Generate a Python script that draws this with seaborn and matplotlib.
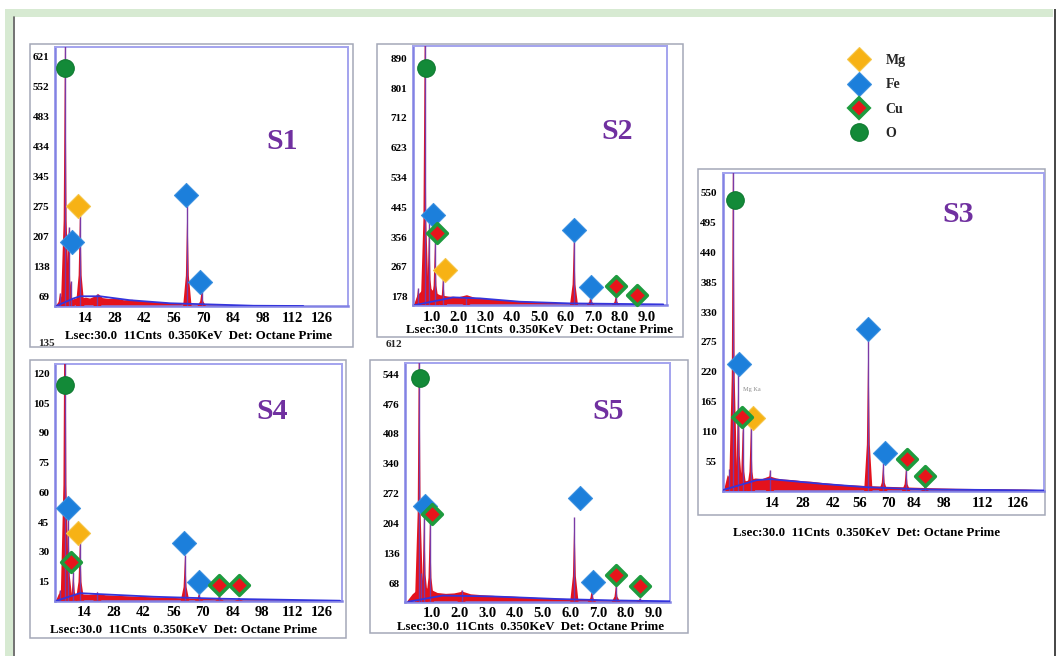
import matplotlib
matplotlib.use("Agg")
import matplotlib.pyplot as plt
from matplotlib.patches import Rectangle
from matplotlib.lines import Line2D
import seaborn as sns

sns.set_theme(style="white")
plt.rcParams["font.family"] = ["Liberation Serif", "DejaVu Serif"]
plt.rcParams["font.weight"] = "bold"

W, H = 1056, 656

# ---------------------------------------------------------------- data
elements = ["Mg", "Fe", "Cu", "O"]

# S1 : channel scale
s1_peak_x = [2.0, 4.4, 6.1, 7.0, 11.5, 19.7, 62.3, 69.1]
s1_peak_y = [78, 700, 230, 105, 283, 76, 279, 84]
s1_cont_x = [0.5, 2, 3, 4, 6, 8, 10, 12, 14, 16, 18, 20, 22, 25, 28, 32, 36, 40, 45, 50, 55, 60, 66, 72, 80, 90, 100, 110, 118]
s1_cont_y = [48, 66, 74, 60, 68, 64, 67, 66, 68, 66, 70, 76, 67, 65, 67, 62, 63, 60, 58, 57, 55, 53, 52, 51, 50, 49.5, 49, 48.5, 47.8]
s1_bg_x = [0.4, 8.3, 11.5, 20.9, 35.1, 54.1, 71.5, 93.6, 117.2]
s1_bg_y = [48, 65, 70, 70, 61, 54, 51.5, 48.3, 47.7]
s1_mk_el = ["O", "Fe", "Mg", "Fe", "Fe"]
s1_mk_x = [4.4, 7.7, 10.3, 61.6, 68.3]
s1_mk_y = [593, 195, 278, 302, 103]
s1_yticks = [69, 138, 207, 276, 345, 414, 483, 552, 621]
s1_ylabels = ["69", "138", "207", "275", "345", "434", "483", "552", "621"]

# S2 : keV scale
s2_peak_x = [0.50, 0.75, 0.91, 1.13, 1.43, 2.30, 6.30, 6.92, 7.86, 8.63]
s2_peak_y = [203, 1000, 402, 347, 238, 174, 357, 183, 183, 163]
s2_cont_x = [0.32, 0.45, 0.6, 0.8, 0.95, 1.1, 1.3, 1.6, 2.0, 2.3, 2.6, 3.0, 3.5, 4.0, 4.5, 5.0, 5.5, 6.0, 6.6, 7.2, 8.0, 8.8, 9.7]
s2_cont_y = [153, 182, 195, 210, 204, 192, 184, 180, 178, 184, 176, 173, 170, 167, 165, 163, 161, 160, 159, 158, 157, 155, 154]
s2_bg_x = [0.38, 1.19, 1.80, 2.80, 4.29, 6.15, 9.62]
s2_bg_y = [153, 166, 176, 173, 163, 158, 155]
s2_mk_el = ["O", "Fe", "Cu", "Mg", "Fe", "Fe", "Cu", "Cu"]
s2_mk_x = [0.79, 1.06, 1.22, 1.51, 6.30, 6.95, 7.86, 8.63]
s2_mk_y = [860, 422, 367, 258, 377, 208, 211, 183]
s2_yticks = [178, 267, 356, 445, 534, 623, 712, 801, 890]

# S3 : channel scale
s3_peak_x = [3.0, 4.6, 6.8, 8.7, 12.2, 20.4, 62.6, 69.0, 78.8, 86.9]
s3_peak_y = [40, 700, 217, 119, 119, 39, 285, 51, 42, 11]
s3_cont_x = [0.3, 2, 3.5, 5, 7, 10, 12, 14, 17, 20, 23, 26, 30, 34, 38, 42, 47, 52, 57, 62, 68, 75, 82, 90, 100, 110, 120, 130, 137]
s3_cont_y = [0, 30, 22, 17, 20, 19, 22, 24, 23, 28, 24, 22, 21, 19, 18, 16, 14, 12, 11, 10, 9, 8, 7, 6, 5, 4.5, 4, 3.5, 2.5]
s3_bg_x = [0.3, 14.7, 20.4, 43.3, 61.9, 86.2, 112.0, 137.7]
s3_bg_y = [2, 20, 22, 13, 7, 3, 2, 1]
s3_mk_el = ["O", "Fe", "Cu", "Mg", "Fe", "Fe", "Cu", "Cu"]
s3_mk_x = [5.4, 7.2, 8.2, 13.0, 62.6, 69.7, 79.1, 86.9]
s3_mk_y = [536, 234, 137, 134, 298, 70, 59, 28]
s3_yticks = [55, 110, 165, 220, 275, 330, 385, 440, 495, 550]

# S4 : channel scale
s4_peak_x = [2.7, 5.0, 6.6, 8.95, 12.1, 20.3, 61.6, 68.2, 77.8, 87.0]
s4_peak_y = [10.8, 200, 47, 20, 37, 10, 28.4, 9.2, 8.3, 7.0]
s4_cont_x = [0.5, 2, 4, 6, 8, 10, 12, 16, 20, 24, 28, 34, 40, 46, 52, 60, 70, 80, 90, 100, 115, 130]
s4_cont_y = [5.4, 9.2, 7.4, 8.8, 8.4, 8.6, 8.9, 8.6, 9.0, 8.4, 8.2, 7.9, 7.6, 7.4, 7.2, 6.9, 6.6, 6.3, 6.1, 5.9, 5.7, 5.5]
s4_bg_x = [1.1, 12.1, 21.5, 46.7, 78.1, 134.6]
s4_bg_y = [5.4, 9.2, 8.7, 7.4, 6.4, 5.4]
s4_mk_el = ["O", "Fe", "Cu", "Mg", "Fe", "Fe", "Cu", "Cu"]
s4_mk_x = [5.0, 6.6, 7.9, 11.3, 61.3, 68.2, 77.8, 87.0]
s4_mk_y = [114, 52, 25, 39.7, 34.7, 15, 13.3, 13.3]
s4_yticks = [15, 30, 45, 60, 75, 90, 105, 120]

# S5 : keV scale
s5_peak_x = [0.55, 0.62, 0.73, 0.94, 2.08, 6.15, 6.78, 7.65, 8.52]
s5_peak_y = [700, 92, 231, 208, 53, 220, 53, 64, 34]
s5_cont_x = [0.08, 0.3, 0.45, 0.6, 0.8, 1.0, 1.2, 1.5, 1.8, 2.1, 2.4, 2.8, 3.3, 3.8, 4.4, 5.0, 5.6, 6.3, 7.0, 7.8, 8.6, 9.6]
s5_cont_y = [26, 44, 52, 64, 58, 53, 47, 45, 46, 50, 44, 42, 40, 39, 37, 35, 34, 32, 31, 30, 28, 27]
s5_bg_x = [0.16, 1.4, 3.2, 5.6, 7.5, 9.6]
s5_bg_y = [26, 40, 38, 32, 29, 27]
s5_mk_el = ["O", "Fe", "Cu", "Fe", "Fe", "Cu", "Cu"]
s5_mk_x = [0.58, 0.76, 1.02, 6.35, 6.83, 7.65, 8.52]
s5_mk_y = [535, 244, 225, 262, 72, 87, 62.5]
s5_yticks = [68, 136, 204, 272, 340, 408, 476, 544]

chan_ticks = [14, 28, 42, 56, 70, 84, 98, 112, 126]
kev_ticks = [1.0, 2.0, 3.0, 4.0, 5.0, 6.0, 7.0, 8.0, 9.0]
# where the channel labels of S3 sit on its energy axis
s3_tick_pos = [21.5, 34.4, 47.3, 58.7, 71.2, 82.2, 95.1, 111.7, 126.9]

caption = "Lsec:30.0  11Cnts  0.350KeV  Det: Octane Prime"

# ---------------------------------------------------------------- style
RED = "#e4121c"
PURPLE = "#7a3aa6"
BLUE = "#3434dc"
FRAME = "#a3a3ee"
AXIS = "#8282e4"
BOX = "#a4a8b8"
TITLE = "#7030a0"

mk_style = {
    "Mg": dict(marker="D", color="#f7b215", edgecolor="#f5c64a", linewidth=0.8, s=150),
    "Fe": dict(marker="D", color="#1c7fdb", edgecolor="#3a90e0", linewidth=0.8, s=150),
    "Cu": dict(marker="D", color="#e8141b", edgecolor="#1e9b3e", linewidth=2.6, s=100),
    "O": dict(marker="o", color="#138a38", edgecolor="#0e7a30", linewidth=0.8, s=160),
}


def px_rect(l, t, r, b):
    return [l / W, 1 - b / H, (r - l) / W, (b - t) / H]


fig = plt.figure(figsize=(W / 100, H / 100), dpi=100)
fig.patch.set_facecolor("white")

# page frame
fig.add_artist(Rectangle((5 / W, 0), 1048 / W, 1 - 9 / H, transform=fig.transFigure,
                         facecolor="#d7ead2", edgecolor="none", zorder=-10))
fig.add_artist(Rectangle((13 / W, 0), 1040 / W, 1 - 17 / H, transform=fig.transFigure,
                         facecolor="white", edgecolor="none", zorder=-9))
fig.add_artist(Line2D([13.5 / W, 13.5 / W], [0, 1 - 17 / H], transform=fig.transFigure,
                      color="#5a5a5a", lw=1.2, zorder=-8))
fig.add_artist(Rectangle((1053.5 / W, 0), 2.5 / W, 1 - 9 / H, transform=fig.transFigure,
                         facecolor="#4a4a4a", edgecolor="none", zorder=-8))

# panel boxes
for (l, t, r, b) in [(30, 44, 353, 347), (377, 44, 683, 337), (698, 169, 1045, 515),
                     (30, 360, 346, 638), (370, 360, 688, 633)]:
    fig.add_artist(Rectangle((l / W, 1 - b / H), (r - l) / W, (b - t) / H, transform=fig.transFigure,
                             facecolor="none", edgecolor=BOX, lw=1.1, zorder=-5))


def draw_panel(rect, px, py, cx, cy, bx, by, me, mx, my, xlim, ylim, half_w,
               xticks, xlabels, yticks, ylabels, xfs, yfs):
    ax = fig.add_axes(px_rect(*rect))
    ax.set_facecolor("white")
    y0 = ylim[0]
    ax.fill_between(cx, y0, cy, color=RED, lw=0, zorder=2)
    # each line drawn as a narrow red spike, broad at its foot
    for x, y in zip(px, py):
        ax.fill([x - half_w, x - half_w * 0.35, x, x + half_w * 0.35, x + half_w],
                [y0, y0 + (y - y0) * 0.3, y, y0 + (y - y0) * 0.3, y0],
                color=RED, lw=0, zorder=3)
    ax.vlines(px, y0, py, color=PURPLE, lw=1.0, zorder=4)
    sns.lineplot(x=bx, y=by, ax=ax, color=BLUE, lw=1.3, sort=False, estimator=None, zorder=4)
    for el in elements:
        sel = [i for i, e in enumerate(me) if e == el]
        if not sel:
            continue
        sns.scatterplot(x=[mx[i] for i in sel], y=[my[i] for i in sel], ax=ax,
                        zorder=6, clip_on=False, legend=False, **mk_style[el])
    ax.set_xlim(*xlim)
    ax.set_ylim(*ylim)
    ax.set_xticks(xticks)
    ax.set_xticklabels(xlabels, fontsize=xfs, fontweight="bold")
    ax.set_yticks(yticks)
    ax.set_yticklabels(ylabels, fontsize=yfs, fontweight="bold")
    ax.tick_params(axis="both", length=0, colors="black")
    ax.tick_params(axis="x", pad=4)
    ax.tick_params(axis="y", pad=4)
    ax.set_xlabel("")
    ax.set_ylabel("")
    for side in ["top", "right"]:
        ax.spines[side].set_color(FRAME)
        ax.spines[side].set_linewidth(1.4)
    for side in ["left", "bottom"]:
        ax.spines[side].set_color(AXIS)
        ax.spines[side].set_linewidth(1.8)
    return ax


chan_labels = [str(v) for v in chan_ticks]
kev_labels = [f"{v:.1f}" for v in kev_ticks]

draw_panel((55, 47, 348, 306), s1_peak_x, s1_peak_y, s1_cont_x, s1_cont_y, s1_bg_x, s1_bg_y,
           s1_mk_el, s1_mk_x, s1_mk_y, (-0.4, 138.4), (47.7, 641.8), 2.0,
           chan_ticks, chan_labels, s1_yticks, s1_ylabels, 10.5, 8)
draw_panel((413, 46, 667, 305), s2_peak_x, s2_peak_y, s2_cont_x, s2_cont_y, s2_bg_x, s2_bg_y,
           s2_mk_el, s2_mk_x, s2_mk_y, (0.31, 9.76), (153.2, 926.8), 0.15,
           kev_ticks, kev_labels, s2_yticks, [str(v) for v in s2_yticks], 10.5, 8)
draw_panel((722.5, 172.7, 1044, 491), s3_peak_x, s3_peak_y, s3_cont_x, s3_cont_y, s3_bg_x, s3_bg_y,
           s3_mk_el, s3_mk_x, s3_mk_y, (0, 138), (0, 587), 1.8,
           s3_tick_pos, chan_labels, s3_yticks, [str(v) for v in s3_yticks], 10.5, 8)
draw_panel((55, 364.3, 341.7, 600.7), s4_peak_x, s4_peak_y, s4_cont_x, s4_cont_y, s4_bg_x, s4_bg_y,
           s4_mk_el, s4_mk_x, s4_mk_y, (0.33, 135.4), (5.4, 124.5), 2.0,
           chan_ticks, chan_labels, s4_yticks, [str(v) for v in s4_yticks], 10.5, 8)
draw_panel((405, 363.3, 670, 601.7), s5_peak_x, s5_peak_y, s5_cont_x, s5_cont_y, s5_bg_x, s5_bg_y,
           s5_mk_el, s5_mk_x, s5_mk_y, (0.04, 9.6), (26, 569), 0.15,
           kev_ticks, kev_labels, s5_yticks, [str(v) for v in s5_yticks], 10.5, 8)


def ftext(x, y, s, **kw):
    fig.text(x / W, 1 - y / H, s, ha=kw.pop("ha", "center"), va=kw.pop("va", "center"), **kw)


# panel names
for name, (x, y) in zip(["S1", "S2", "S3", "S4", "S5"],
                        [(281.7, 141.7), (616.7, 131.7), (958.3, 215), (271.7, 411.7), (608.3, 411.7)]):
    ftext(x, y, name, fontsize=21.5, fontweight="bold", color=TITLE)

# acquisition captions
for (x, y) in [(198.3, 336), (540, 330), (866.7, 533.3), (183.3, 630), (531, 626.7)]:
    ftext(x, y, caption, fontsize=9.3, fontweight="bold", color="black")

ftext(46.7, 343.3, "135", fontsize=8, fontweight="bold")
ftext(394.3, 344.3, "612", fontsize=8, fontweight="bold")
ftext(752, 390, "Mg Ka", fontsize=4.5, color="#8a8a8a", fontweight="normal")

# element legend
handles = [Line2D([], [], ls="none", marker=mk_style[e]["marker"],
                  ms=(mk_style[e]["s"]) ** 0.5, mfc=mk_style[e]["color"],
                  mec=mk_style[e]["edgecolor"], mew=mk_style[e]["linewidth"]) for e in elements]
fig.legend(handles, elements, loc="upper left", bbox_to_anchor=(850 / W, 1 - 54 / H),
           frameon=False, prop={"family": ["Liberation Serif"], "weight": "bold", "size": 10},
           labelspacing=0.82, handlelength=1.3, handletextpad=1.25, borderpad=0, borderaxespad=0)

fig.savefig("out.png", dpi=100, facecolor="white")
